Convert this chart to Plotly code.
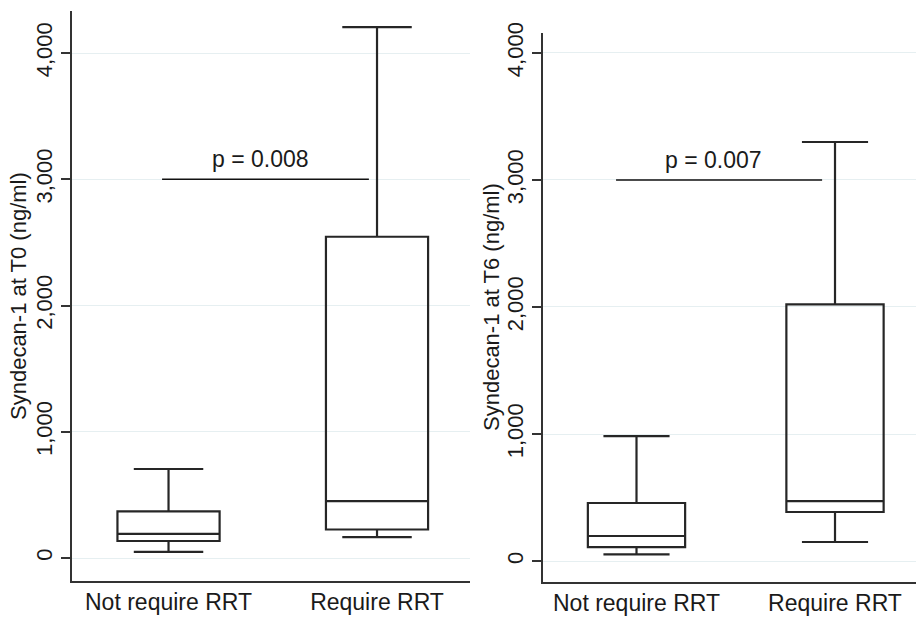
import plotly.graph_objects as go

categories = ["Not require RRT", "Require RRT"]
cat_pos = [1, 2]

# Syndecan-1 at T0 (ng/ml)
t0_lower = [48, 166]
t0_q1 = [135, 226]
t0_median = [192, 451]
t0_q3 = [370, 2545]
t0_upper = [705, 4206]

# Syndecan-1 at T6 (ng/ml)
t6_lower = [52, 150]
t6_q1 = [110, 386]
t6_median = [197, 472]
t6_q3 = [457, 2020]
t6_upper = [984, 3299]

ytick_vals = [0, 1000, 2000, 3000, 4000]
y_titles = ["Syndecan-1 at T0 (ng/ml)", "Syndecan-1 at T6 (ng/ml)"]
p_labels = ["p = 0.008", "p = 0.007"]
bracket_y = 3000
text_y = 3160
bracket_x_t0 = [0.969, 1.961]
bracket_x_t6 = [0.897, 1.935]
text_x = [1.443, 1.390]

FONT = "Arial, Liberation Sans, sans-serif"
LINE = "#262626"
GRID = "#e6eff1"
FS = 23
W, H = 916, 619

fig = go.Figure()

def add_box(xa, ya, lo, q1, med, q3, hi):
    fig.add_trace(go.Box(
        x=cat_pos, lowerfence=lo, q1=q1, median=med, q3=q3, upperfence=hi,
        xaxis=xa, yaxis=ya, width=0.49, whiskerwidth=0.68,
        fillcolor="rgba(255,255,255,0)", line=dict(color=LINE, width=2.2),
        boxpoints=False, showlegend=False, hoverinfo="skip",
    ))

add_box("x", "y", t0_lower, t0_q1, t0_median, t0_q3, t0_upper)
add_box("x2", "y2", t6_lower, t6_q1, t6_median, t6_q3, t6_upper)

# p-value brackets
fig.add_trace(go.Scatter(x=bracket_x_t0, y=[bracket_y, bracket_y], mode="lines",
                         line=dict(color="#111", width=1.6), xaxis="x", yaxis="y",
                         showlegend=False, hoverinfo="skip"))
fig.add_trace(go.Scatter(x=bracket_x_t6, y=[bracket_y, bracket_y], mode="lines",
                         line=dict(color="#111", width=1.6), xaxis="x2", yaxis="y2",
                         showlegend=False, hoverinfo="skip"))

fig.add_annotation(x=text_x[0], y=text_y, xref="x", yref="y", text=p_labels[0],
                   showarrow=False, font=dict(family=FONT, size=FS, color="#1a1a1a"))
fig.add_annotation(x=text_x[1], y=text_y, xref="x2", yref="y2", text=p_labels[1],
                   showarrow=False, font=dict(family=FONT, size=FS, color="#1a1a1a"))

# y-axis titles (rotated)
fig.add_annotation(x=18 / W, y=1 - 296 / H, xref="paper", yref="paper", text=y_titles[0],
                   textangle=-90, showarrow=False, xanchor="center", yanchor="middle",
                   font=dict(family=FONT, size=FS - 1, color="#1a1a1a"))
fig.add_annotation(x=491 / W, y=1 - 307 / H, xref="paper", yref="paper", text=y_titles[1],
                   textangle=-90, showarrow=False, xanchor="center", yanchor="middle",
                   font=dict(family=FONT, size=FS - 1, color="#1a1a1a"))

xcommon = dict(tickvals=cat_pos, ticktext=categories, showgrid=False, zeroline=False,
               showline=True, linecolor="#333", linewidth=1.5, ticks="",
               tickfont=dict(family=FONT, size=FS, color="#1a1a1a"), automargin=False)
ycommon = dict(tickvals=ytick_vals, tickformat=",", tickangle=-90, showgrid=True,
               gridcolor=GRID, gridwidth=1, zeroline=False, showline=True,
               linecolor="#333", linewidth=1.5, ticks="outside", ticklen=9,
               tickcolor="#333", tickwidth=1.5,
               tickfont=dict(family=FONT, size=FS - 1, color="#1a1a1a"), automargin=False)

fig.update_layout(
    width=W, height=H, margin=dict(l=0, r=0, t=0, b=0),
    paper_bgcolor="white", plot_bgcolor="white",
    xaxis=dict(domain=[72/W, 470/W], range=[0.537, 2.446], anchor="y", **xcommon),
    yaxis=dict(domain=[(H-581)/H, (H-11)/H], range=[-182, 4333], anchor="x", **ycommon),
    xaxis2=dict(domain=[543/W, 1.0], range=[0.529, 2.408], anchor="y2", **xcommon),
    yaxis2=dict(domain=[(H-582)/H, (H-33)/H], range=[-165, 4157], anchor="x2", **ycommon),
)

fig.write_html("out.html")
